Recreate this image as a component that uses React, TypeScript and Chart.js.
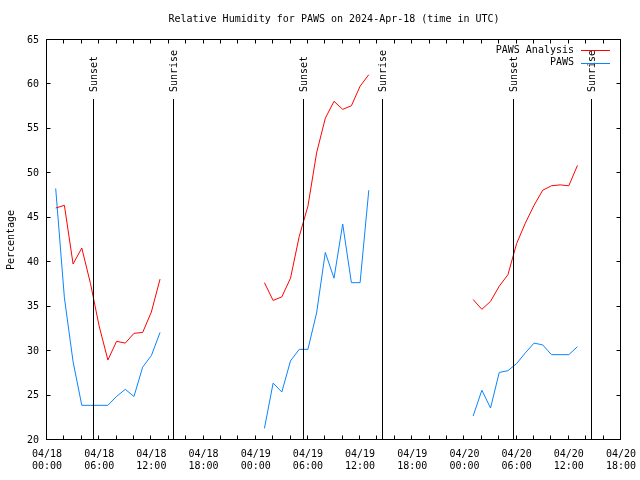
import React, { useEffect, useRef } from "react";
import { Chart, registerables } from "chart.js";

Chart.register(...registerables);

const FONT = '"DejaVu Sans Mono", "Liberation Mono", monospace';

// hours since 2024-04-18 00:00 UTC
const hours = [
  1, 2, 3, 4, 5, 6, 7, 8, 9, 10, 11, 12, 13,
  25, 26, 27, 28, 29, 30, 31, 32, 33, 34, 35, 36, 37,
  49, 50, 51, 52, 53, 54, 55, 56, 57, 58, 59, 60, 61,
];

const analysisRH = [
  46.1, 46.4, 39.8, 41.6, 37.6, 32.8, 29.0, 31.1, 30.9, 32.0, 32.1, 34.4, 38.1,
  37.7, 35.7, 36.1, 38.2, 42.9, 46.3, 52.3, 56.2, 58.1, 57.2, 57.6, 59.8, 61.1,
  35.8, 34.7, 35.6, 37.3, 38.6, 42.1, 44.4, 46.4, 48.1, 48.6, 48.7, 48.6, 50.9,
];

const pawsRH = [
  48.3, 36.0, 28.8, 23.9, 23.9, 23.9, 23.9, 24.9, 25.7, 24.9, 28.2, 29.5, 32.1,
  21.3, 26.4, 25.4, 28.9, 30.2, 30.2, 34.3, 41.1, 38.2, 44.3, 37.7, 37.7, 48.1,
  22.7, 25.6, 23.6, 27.6, 27.8, 28.6, 29.8, 30.9, 30.7, 29.6, 29.6, 29.6, 30.5,
];

const tickDates = ["04/18", "04/18", "04/18", "04/18", "04/19", "04/19", "04/19", "04/19", "04/20", "04/20", "04/20", "04/20"];
const tickTimes = ["00:00", "06:00", "12:00", "18:00", "00:00", "06:00", "12:00", "18:00", "00:00", "06:00", "12:00", "18:00"];

const eventLabels = ["Sunset", "Sunrise", "Sunset", "Sunrise", "Sunset", "Sunrise"];
const eventHours = [5.29, 14.49, 29.43, 38.56, 53.57, 62.54];

const seriesLabels = ["PAWS Analysis", "PAWS"];
const seriesColors = ["#ff0000", "#0a84ff"];

const overlayPlugin = {
  id: "overlay",
  afterDatasetsDraw(chart: any) {
    const { ctx, chartArea, scales } = chart;
    const { left, right, top, bottom } = chartArea;
    const x = scales.x;
    const y = scales.y;
    ctx.save();
    ctx.strokeStyle = "#000";
    ctx.lineWidth = 1;
    ctx.fillStyle = "#000";
    ctx.font = `10px ${FONT}`;

    // sunrise / sunset markers
    eventHours.forEach((h, i) => {
      const px = Math.round(x.getPixelForValue(h)) + 0.5;
      ctx.beginPath();
      ctx.moveTo(px, top + 59);
      ctx.lineTo(px, bottom);
      ctx.stroke();
      ctx.save();
      ctx.translate(px + 1, top + 52);
      ctx.rotate(-Math.PI / 2);
      ctx.textAlign = "left";
      ctx.textBaseline = "middle";
      ctx.fillText(eventLabels[i], 0, 0);
      ctx.restore();
    });

    // frame
    const L = Math.round(left) - 0.5;
    const R = Math.round(right) - 0.5;
    const T = Math.round(top) - 0.5;
    const B = Math.round(bottom) - 0.5;
    ctx.strokeRect(L, T, R - L, B - T);

    // inward ticks
    const tl = 4;
    y.ticks.forEach((t: any) => {
      const py = Math.round(y.getPixelForValue(t.value)) - 0.5;
      ctx.beginPath();
      ctx.moveTo(L, py);
      ctx.lineTo(L + tl, py);
      ctx.moveTo(R, py);
      ctx.lineTo(R - tl, py);
      ctx.stroke();
    });
    x.ticks.forEach((t: any) => {
      const px = Math.round(x.getPixelForValue(t.value)) - 0.5;
      ctx.beginPath();
      ctx.moveTo(px, B);
      ctx.lineTo(px, B - tl);
      ctx.moveTo(px, T);
      ctx.lineTo(px, T + tl);
      ctx.stroke();
    });

    // legend
    chart.data.datasets.forEach((ds: any, i: number) => {
      const ly = top + 10 + i * 12.5;
      ctx.textAlign = "right";
      ctx.textBaseline = "middle";
      ctx.fillStyle = "#000";
      ctx.fillText(ds.label, right - 47, ly);
      ctx.strokeStyle = ds.borderColor;
      ctx.beginPath();
      ctx.moveTo(right - 40, Math.round(ly) + 0.5);
      ctx.lineTo(right - 11, Math.round(ly) + 0.5);
      ctx.stroke();
    });
    ctx.restore();
  },
};

export default function App() {
  const ref = useRef<HTMLCanvasElement>(null);

  useEffect(() => {
    if (!ref.current) return;
    const chart = new Chart(ref.current, {
      type: "line",
      data: {
        datasets: [
          {
            label: seriesLabels[0],
            data: hours.map((h, i) => ({ x: h, y: analysisRH[i] })),
            borderColor: seriesColors[0],
            borderWidth: 1,
            pointRadius: 0,
            tension: 0,
            spanGaps: 2,
          },
          {
            label: seriesLabels[1],
            data: hours.map((h, i) => ({ x: h, y: pawsRH[i] })),
            borderColor: seriesColors[1],
            borderWidth: 1,
            pointRadius: 0,
            tension: 0,
            spanGaps: 2,
          },
        ],
      },
      options: {
        animation: false,
        responsive: false,
        layout: { padding: { left: 0, right: 19, top: 0, bottom: 0 } },
        plugins: {
          legend: { display: false },
          tooltip: { enabled: false },
          title: {
            display: true,
            text: "Relative Humidity for PAWS on 2024-Apr-18 (time in UTC)",
            color: "#000",
            font: { family: FONT, size: 10, weight: "normal" },
            padding: { top: 13, bottom: 15 },
            fullSize: false,
          },
        },
        scales: {
          x: {
            type: "linear",
            min: 0,
            max: 66,
            grid: { display: false, drawTicks: false, tickLength: 0 },
            border: { display: false },
            ticks: {
              stepSize: 2,
              autoSkip: false,
              maxRotation: 0,
              padding: 8,
              color: "#000",
              font: { family: FONT, size: 10 },
              callback: (v: any) => {
                const n = Number(v);
                return n % 6 === 0 ? [tickDates[n / 6], tickTimes[n / 6]] : "";
              },
            },
            afterFit: (s: any) => {
              s.height = 40;
              s.paddingLeft = 0;
              s.paddingRight = 0;
            },
          },
          y: {
            min: 20,
            max: 65,
            grid: { display: false, drawTicks: false, tickLength: 0 },
            border: { display: false },
            ticks: {
              stepSize: 5,
              padding: 8,
              color: "#000",
              font: { family: FONT, size: 10 },
            },
            title: {
              display: true,
              text: "Percentage",
              color: "#000",
              font: { family: FONT, size: 10 },
              padding: { top: 5, bottom: 0 },
            },
            afterFit: (s: any) => {
              s.width = 47;
              s.paddingTop = 0;
              s.paddingBottom = 0;
            },
          },
        },
      },
      plugins: [overlayPlugin],
    });
    return () => chart.destroy();
  }, []);

  return (
    <div style={{ position: "fixed", left: 0, top: 0, width: 640, height: 480, background: "#fff" }}>
      <canvas ref={ref} width={640} height={480} />
    </div>
  );
}
